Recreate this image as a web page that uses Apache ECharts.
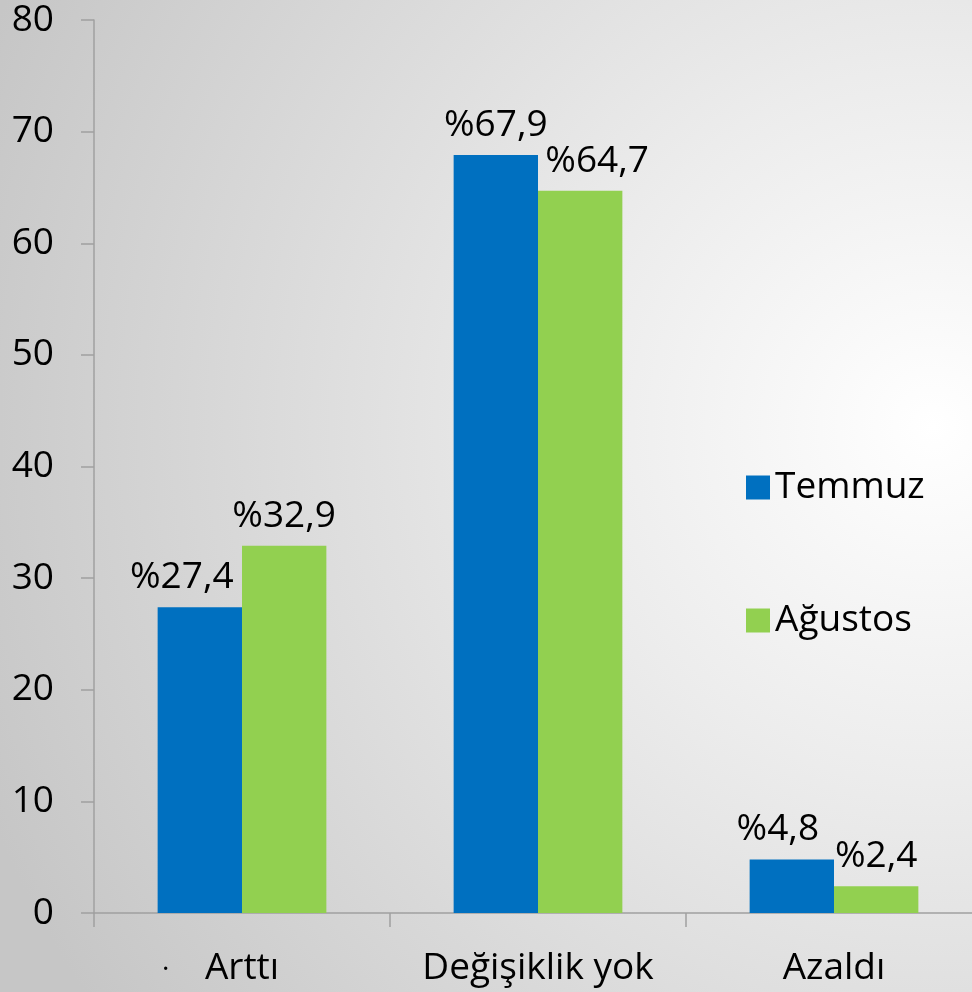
<!DOCTYPE html>
<html>
<head>
<meta charset="utf-8">
<script src="https://cdn.jsdelivr.net/npm/echarts@6/dist/echarts.min.js"></script>
<style>
  html, body { margin: 0; padding: 0; }
  #chart { width: 972px; height: 992px; }
</style>
</head>
<body>
<div id="chart"></div>
<script>
const categories = ['Arttı', 'Değişiklik yok', 'Azaldı']
const temmuz = [27.4, 67.9, 4.8]
const agustos = [32.9, 64.7, 2.4]
const yTicks = {min: 0, max: 80, interval: 10}

// horizontal nudge of the value labels, like the original slide
const temmuzShift = [-18, 0, -14]
const agustosShift = [0, 17, 0]

const font = '"Open Sans", Lato, sans-serif'
const axisColor = '#a0a0a0'
const fs = 37
const fmt = ({value}) => '%' + String(value).replace('.', ',')

const barSeries = (name, values, shift, color) => ({
    name,
    type: 'bar',
    data: values.map((v, i) => ({value: v, label: {offset: [shift[i], 0]}})),
    barGap: '0%',
    barCategoryGap: '43%',
    itemStyle: {color},
    label: {show: true, position: 'top', distance: 11, fontSize: fs, color: '#000', formatter: fmt, fontFamily: font},
})

const chart = echarts.init(document.getElementById('chart'))
chart.setOption({
    backgroundColor: {
        type: 'radial',
        x: 0.96,
        y: 0.43,
        r: 1.05,
        colorStops: [
            {offset: 0, color: '#ffffff'},
            {offset: 0.35, color: '#ececec'},
            {offset: 1, color: '#c6c6c6'},
        ],
    },
    textStyle: {fontFamily: font},
    grid: {left: 94, top: 20, right: -10, bottom: 79, outerBoundsMode: 'none'},
    legend: {
        orient: 'vertical',
        left: 741,
        top: 464,
        itemWidth: 24,
        itemHeight: 24,
        itemGap: 96,
        icon: 'rect',
        textStyle: {fontSize: fs, color: '#000', fontFamily: font},
        data: ['Temmuz', 'Ağustos'],
    },
    xAxis: {
        type: 'category',
        data: categories,
        axisLine: {lineStyle: {color: axisColor, width: 1.5}},
        axisTick: {show: true, interval: 0, length: 14, lineStyle: {color: axisColor, width: 1.5}},
        axisLabel: {interval: 0, hideOverlap: false, fontSize: fs, color: '#000', margin: 37, fontFamily: font},
    },
    yAxis: {
        type: 'value',
        min: yTicks.min,
        max: yTicks.max,
        interval: yTicks.interval,
        splitLine: {show: false},
        axisLine: {show: true, lineStyle: {color: axisColor, width: 1.5}},
        axisTick: {show: true, length: 13, lineStyle: {color: axisColor, width: 1.5}},
        axisLabel: {fontSize: fs, color: '#000', margin: 40, fontFamily: font},
    },
    graphic: [
        {type: 'text', left: 162, top: 956, style: {text: '·', fill: '#000', font: '28px ' + font}},
    ],
    series: [
        barSeries('Temmuz', temmuz, temmuzShift, '#0070c0'),
        barSeries('Ağustos', agustos, agustosShift, '#92d050'),
    ],
})
</script>
</body>
</html>
